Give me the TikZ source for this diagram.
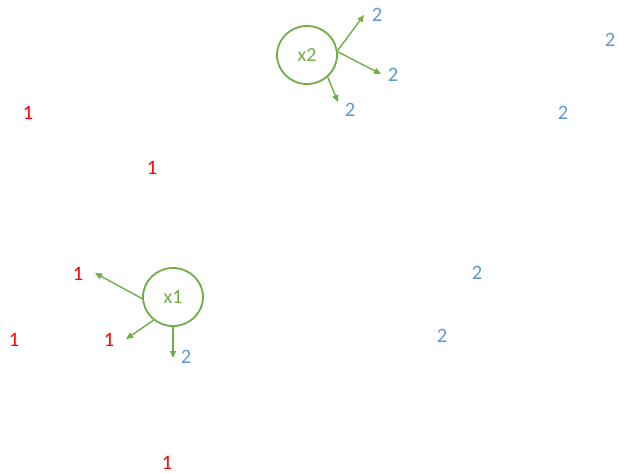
\documentclass[tikz,border=0pt]{standalone}
\usepackage{fontspec}
\setmainfont{Carlito}
\usetikzlibrary{arrows.meta,shapes.geometric}
\definecolor{offgreen}{HTML}{70AD47}
\definecolor{offblue}{HTML}{5B9BD5}
\definecolor{offred}{HTML}{FF0000}
\begin{document}
\begin{tikzpicture}[x=1pt,y=-1pt,
  lbl/.style={font=\fontsize{20.5}{20.5}\selectfont, inner sep=0pt},
  one/.style={lbl, text=offred},
  two/.style={lbl, text=offblue},
  var/.style={draw=offgreen, line width=1.8pt, ellipse, minimum width=60pt, minimum height=58pt, inner sep=0pt, text=offgreen, font=\fontsize{20}{20}\selectfont},
  arr/.style={draw=offgreen, line width=1.4pt, -{Triangle[length=7pt,width=6pt]}}]
\useasboundingbox[fill=white] (0,0) rectangle (618,472);
% variable nodes
\node[var] (x2) at (307,55) {x2};
\node[var] (x1) at (173,297) {x1};
% red labels
\node[one] (r1) at (28,113) {1};
\node[one] (r2) at (152,168) {1};
\node[one] (r3) at (78,274) {1};
\node[one] (r4) at (14,340) {1};
\node[one] (r5) at (109,340) {1};
\node[one] (r6) at (167,463) {1};
% blue labels
\node[two] (b1) at (377,15) {2};
\node[two] (b2) at (610,40) {2};
\node[two] (b3) at (393,75) {2};
\node[two] (b4) at (350,110) {2};
\node[two] (b5) at (563,113) {2};
\node[two] (b6) at (477,273) {2};
\node[two] (b7) at (442,336) {2};
\node[two] (b8) at (186,357) {2};
% arrow ends
\coordinate (e1) at (364,15);
\coordinate (e2) at (381,74);
\coordinate (e3) at (338,102);
\coordinate (e4) at (95,273);
\coordinate (e5) at (126,339);
\coordinate (e6) at (173,358);
% arrows
\draw[arr] (x2.8) -- (e1);
\draw[arr] (x2.6) -- (e2);
\draw[arr] (x2.-47) -- (e3);
\draw[arr] (x1.183) -- (e4);
\draw[arr] (x1.230) -- (e5);
\draw[arr] (x1.-90) -- (e6);
\end{tikzpicture}
\end{document}
